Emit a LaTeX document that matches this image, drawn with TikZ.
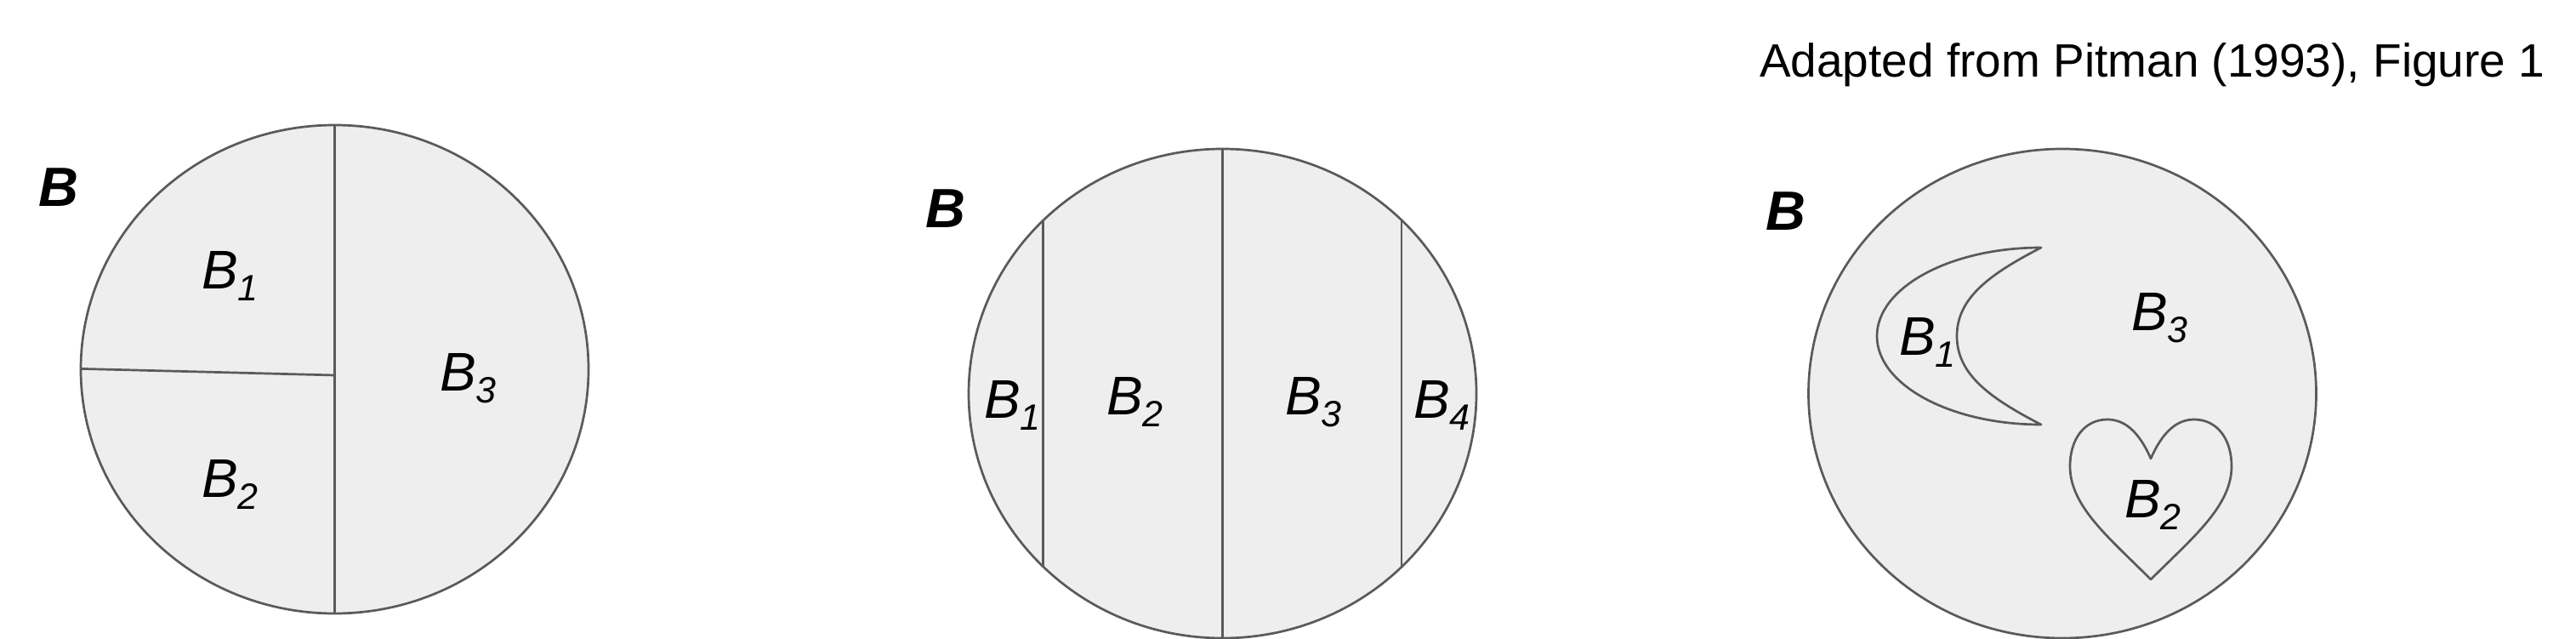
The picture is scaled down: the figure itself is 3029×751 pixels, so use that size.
\documentclass[tikz,border=0pt]{standalone}
\usepackage{fontspec}
\setmainfont{Liberation Sans}
\definecolor{fillg}{HTML}{EEEEEE}
\definecolor{lineg}{HTML}{5A5A5A}
\newcommand{\blab}[1]{{\fontsize{64}{64}\selectfont\itshape B}\raisebox{-14pt}{\fontsize{43}{43}\selectfont\itshape #1}}
\newcommand{\bigB}{{\fontsize{65}{65}\selectfont\bfseries\itshape B}}
\begin{document}
\begin{tikzpicture}[x=1pt,y=-1pt,
  region/.style={fill=fillg},
  edge/.style={draw=lineg, line width=2.7pt, line join=round},
  lab/.style={anchor=base west, inner sep=0pt, outer sep=0pt},
]
\useasboundingbox (0,0) rectangle (3029,751);
% ---------- title
\node[lab, font=\fontsize{55}{55}\selectfont] (title) at (2069,91) {Adapted from Pitman (1993), Figure 1};

% ---------- panel 1
\fill[region] (393.5,434) ellipse [x radius=298.5pt, y radius=287pt];
\begin{scope}
\clip (393.5,434) ellipse [x radius=298.5pt, y radius=287pt];
\draw[edge] (393.5,130) -- (393.5,740);
\draw[edge] (80,433) -- (393.5,441);
\end{scope}
\draw[edge] (393.5,434) ellipse [x radius=298.5pt, y radius=287pt];
\node[lab] (pA) at (45,243) {\bigB};
\node[lab] (pAb1) at (237,339) {\blab{1}};
\node[lab] (pAb2) at (237,584) {\blab{2}};
\node[lab] (pAb3) at (517,459) {\blab{3}};

% ---------- panel 2
\fill[region] (1437.5,462.5) ellipse [x radius=298.5pt, y radius=287.5pt];
\begin{scope}
\clip (1437.5,462.5) ellipse [x radius=298.5pt, y radius=287.5pt];
\draw[edge] (1226.5,150) -- (1226.5,760);
\draw[edge] (1437.5,150) -- (1437.5,760);
\draw[edge] (1648,150) -- (1648,760);
\end{scope}
\draw[edge] (1437.5,462.5) ellipse [x radius=298.5pt, y radius=287.5pt];
\node[lab] (pB) at (1088,268) {\bigB};
\node[lab] (pBb1) at (1157,491) {\blab{1}};
\node[lab] (pBb2) at (1301,487) {\blab{2}};
\node[lab] (pBb3) at (1511,487) {\blab{3}};
\node[lab] (pBb4) at (1662,491) {\blab{4}};

% ---------- panel 3
\fill[region] (2425,462.5) ellipse [x radius=298.5pt, y radius=287.5pt];
\draw[edge] (2425,462.5) ellipse [x radius=298.5pt, y radius=287.5pt];
% moon
\draw[edge] (2400,291)
  .. controls (2293,291) and (2207,338) .. (2207,395)
  .. controls (2207,452) and (2293,499) .. (2400,499)
  .. controls (2340,468) and (2301,440) .. (2301,395)
  .. controls (2301,350) and (2340,322) .. (2400,291) -- cycle;
% heart
\draw[edge] (2529,539)
  .. controls (2543,507) and (2560,493) .. (2580,493)
  .. controls (2607,493) and (2624,516) .. (2624,548)
  .. controls (2624,595) and (2578,632) .. (2529,681)
  .. controls (2480,632) and (2434,595) .. (2434,548)
  .. controls (2434,516) and (2451,493) .. (2478,493)
  .. controls (2498,493) and (2515,507) .. (2529,539) -- cycle;
\node[lab] (pC) at (2076,271) {\bigB};
\node[lab] (pCb1) at (2233,417) {\blab{1}};
\node[lab] (pCb2) at (2498,608) {\blab{2}};
\node[lab] (pCb3) at (2506,388) {\blab{3}};
\end{tikzpicture}
\end{document}
